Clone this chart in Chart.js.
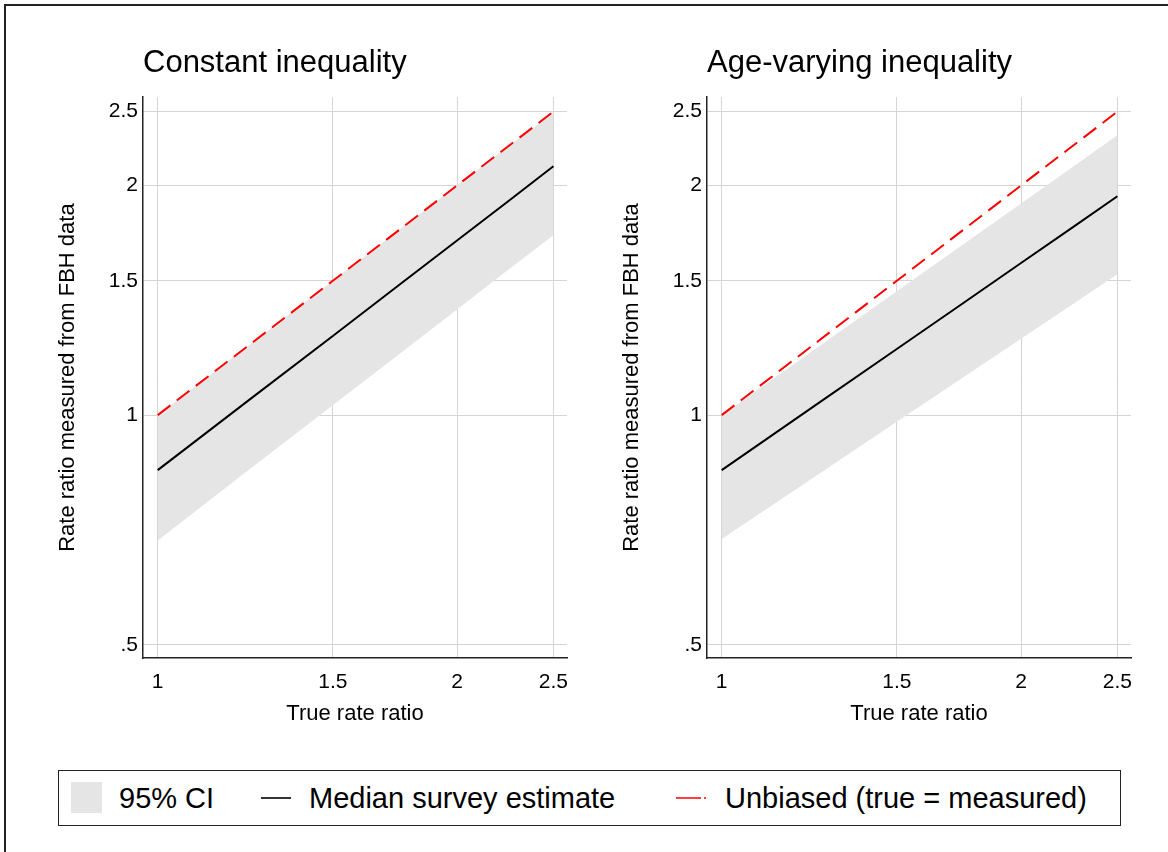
<!DOCTYPE html>
<html>
<head>
<meta charset="utf-8">
<script src="https://cdn.jsdelivr.net/npm/chart.js@4/dist/chart.umd.min.js"></script>
<style>
    body { margin: 0; width: 1168px; height: 852px; overflow: hidden; background: #fff; font-family: "Liberation Sans", Arial, sans-serif; position: relative; }
    #frame { position: absolute; left: 4px; top: 4px; width: 1300px; height: 1000px; border: 2px solid #222; }
    .panel { position: absolute; top: 0; }
    #legend { position: absolute; left: 58px; top: 770px; width: 1061px; height: 54px; border: 1.5px solid #222; }
    #legend span { position: absolute; top: 0; line-height: 54px; font-size: 29px; color: #000; white-space: nowrap; }
    #legend .swatch { position: absolute; left: 12px; top: 11px; width: 31px; height: 31px; background: #e5e5e5; }
    #legend svg { position: absolute; left: 0; top: 0; }
</style>
</head>
<body>
<div id="frame"></div>
<canvas id="leftChart" class="panel" style="left:0px" width="584" height="760"></canvas>
<canvas id="rightChart" class="panel" style="left:564px" width="584" height="760"></canvas>

<div id="legend">
    <div class="swatch"></div>
    <span style="left:60px">95% CI</span>
    <svg width="1061" height="54">
        <line x1="202" y1="27" x2="232" y2="27" stroke="#000" stroke-width="1.6"></line>
        <line x1="617" y1="27" x2="647" y2="27" stroke="#ff0000" stroke-width="1.6" stroke-dasharray="25 3 2 40"></line>
    </svg>
    <span style="left:250px">Median survey estimate</span>
    <span style="left:666px">Unbiased (true = measured)</span>
</div>

<script>
// ---- data ----
const trueRatio = [1, 1.25, 1.5, 1.75, 2, 2.25, 2.5];
const unbiased = [1, 1.25, 1.5, 1.75, 2, 2.25, 2.5];

// constant inequality panel
const constMedian = [0.847, 1.059, 1.27, 1.482, 1.694, 1.906, 2.12];
const constLower = [0.685, 0.858, 1.03, 1.203, 1.376, 1.55, 1.721];
const constUpper = [1.0, 1.25, 1.5, 1.75, 2.0, 2.25, 2.49];

// age-varying inequality panel
const ageMedian = [0.847, 1.036, 1.221, 1.403, 1.583, 1.76, 1.936];
const ageLower = [0.688, 0.836, 0.98, 1.121, 1.259, 1.395, 1.53];
const ageUpper = [1.0, 1.228, 1.453, 1.675, 1.895, 2.112, 2.328];

const xTicks = [1, 1.5, 2, 2.5];
const xTickLabels = ["1", "1.5", "2", "2.5"];
const yTicks = [0.5, 1, 1.5, 2, 2.5];
const yTickLabels = [".5", "1", "1.5", "2", "2.5"];

const FONT = "'Liberation Sans', Arial, sans-serif";
const GRID = "#d4d4d4";

function pts(ys) {
    return trueRatio.map((x, i) => ({ x: x, y: ys[i] }));
}

function labelFor(ticks, labels, v) {
    const i = ticks.findIndex(t => Math.abs(t - v) < 1e-6);
    return i >= 0 ? labels[i] : "";
}

function makePanel(id, title, median, lower, upper) {
    const ctx = document.getElementById(id);

    return new Chart(ctx, {
        type: "line",
        data: {
            datasets: [
                {
                    label: "Unbiased (true = measured)",
                    data: pts(unbiased),
                    borderColor: "#ff0000",
                    borderWidth: 2,
                    borderDash: [16, 8],
                    pointRadius: 0,
                    fill: false,
                    order: 1
                },
                {
                    label: "Median survey estimate",
                    data: pts(median),
                    borderColor: "#000000",
                    borderWidth: 2,
                    pointRadius: 0,
                    fill: false,
                    order: 2
                },
                {
                    label: "lower",
                    data: pts(lower),
                    borderColor: "rgba(0,0,0,0)",
                    borderWidth: 0,
                    pointRadius: 0,
                    fill: false,
                    order: 4
                },
                {
                    label: "95% CI",
                    data: pts(upper),
                    borderColor: "rgba(0,0,0,0)",
                    borderWidth: 0,
                    pointRadius: 0,
                    backgroundColor: "#e5e5e5",
                    fill: "-1",
                    order: 3
                }
            ]
        },
        options: {
            responsive: false,
            animation: false,
            devicePixelRatio: 1,
            layout: { padding: { left: 0, right: 17, top: 0, bottom: 0 } },
            plugins: {
                legend: { display: false },
                tooltip: { enabled: false },
                title: {
                    display: true,
                    text: title,
                    align: "start",
                    fullSize: false,
                    color: "#000",
                    font: { family: FONT, size: 31, weight: "normal" },
                    padding: { top: 45, bottom: 15 }
                }
            },
            scales: {
                x: {
                    type: "logarithmic",
                    min: 0.9665,
                    max: 2.58,
                    afterBuildTicks: s => { s.ticks = xTicks.map(v => ({ value: v })); },
                    afterFit: s => { s.height = 102; },
                    grid: { color: GRID, lineWidth: 1, drawTicks: false },
                    border: { color: "#222", width: 1.5 },
                    ticks: {
                        autoSkip: false,
                        maxRotation: 0,
                        padding: 12,
                        color: "#000",
                        font: { family: FONT, size: 21 },
                        callback: v => labelFor(xTicks, xTickLabels, v)
                    },
                    title: {
                        display: true,
                        text: "True rate ratio",
                        color: "#000",
                        font: { family: FONT, size: 22 },
                        padding: { top: 0, bottom: 33 }
                    }
                },
                y: {
                    type: "logarithmic",
                    min: 0.4804,
                    max: 2.611,
                    afterBuildTicks: s => { s.ticks = yTicks.map(v => ({ value: v })); },
                    afterFit: s => { s.width = 143; },
                    grid: { color: GRID, lineWidth: 1, drawTicks: false },
                    border: { color: "#222", width: 1.5 },
                    ticks: {
                        autoSkip: false,
                        padding: 5,
                        color: "#000",
                        font: { family: FONT, size: 21 },
                        callback: v => labelFor(yTicks, yTickLabels, v)
                    },
                    title: {
                        display: true,
                        text: "Rate ratio measured from FBH data",
                        color: "#000",
                        font: { family: FONT, size: 22 },
                        padding: { top: 55, bottom: 0 }
                    }
                }
            }
        }
    });
}

makePanel("leftChart", "Constant inequality", constMedian, constLower, constUpper);
makePanel("rightChart", "Age-varying inequality", ageMedian, ageLower, ageUpper);
</script>
</body>
</html>
